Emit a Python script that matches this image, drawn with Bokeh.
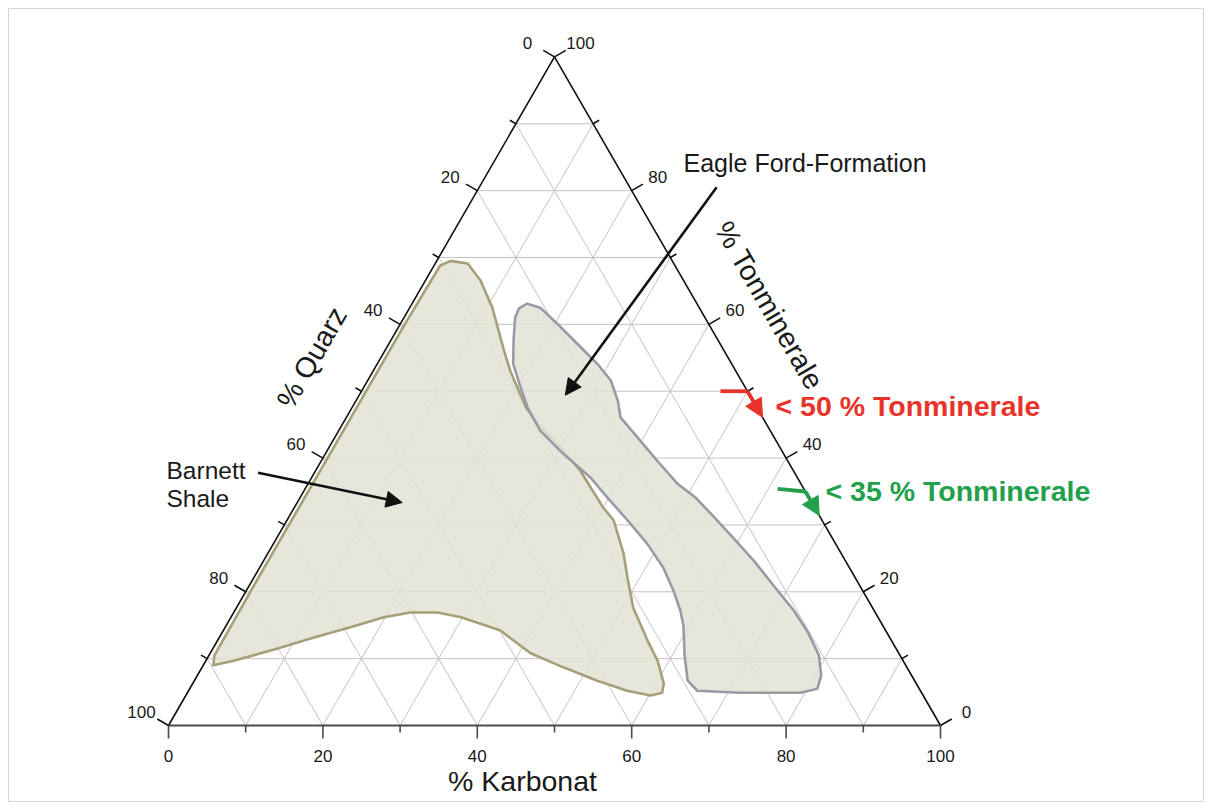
import math
from bokeh.plotting import figure
from bokeh.models import Range1d, Arrow, NormalHead
from bokeh.embed import file_html
from bokeh.resources import INLINE
from bokeh.core.properties import value

# ---------------- data (ternary: % Karbonat, % Tonminerale; Quarz = rest) ----------------
tick_values = [0, 10, 20, 30, 40, 50, 60, 70, 80, 90, 100]
tick_labels = ["0", "20", "40", "60", "80", "100"]
grid_values = [10, 20, 30, 40, 50, 60, 70, 80, 90]

barnett_karbonat = [1.3, 3.6, 8.4, 11.9, 16.2, 19.8, 22.9, 26.4, 29.8, 35.9, 41.5, 46.8,
                    52.2, 56.8, 60.2, 61.5, 61.0, 58.5, 55.7, 51.4, 48.4, 46.1, 42.3,
                    40.0, 34.3, 30.0, 25.2, 22.5, 20.3, 17.7, 15.4, 12.9, 10.7, 7.1,
                    4.2, 1.8, 0.8, 0.6, 0.6, 0.6, 0.7]
barnett_ton = [9.0, 9.7, 11.5, 13.0, 14.7, 16.2, 16.9, 16.9, 16.2, 14.2, 10.8, 8.7,
               6.7, 5.2, 4.5, 4.9, 6.3, 9.7, 12.7, 17.6, 22.1, 25.7, 30.7,
               32.6, 38.1, 41.6, 45.2, 47.6, 50.1, 53.1, 56.1, 59.5, 62.5, 66.6,
               69.1, 69.5, 68.8, 60.0, 40.0, 20.0, 10.5]

eagle_karbonat = [14.9, 16.9, 20.3, 24.4, 28.5, 31.5, 33.9, 35.5, 39.2, 43.5, 47.8,
                  51.2, 54.8, 59.6, 63.8, 68.3, 72.4, 75.9, 79.0, 80.8, 81.3, 79.4,
                  71.6, 65.9, 63.9, 61.6, 59.2, 57.7, 55.3, 52.3, 48.4, 44.1, 39.8,
                  36.1, 30.3, 26.1, 22.7, 20.3, 17.6, 15.9, 14.4, 14.2]
eagle_ton = [63.1, 62.5, 60.1, 57.1, 54.1, 51.6, 48.6, 46.1, 43.1, 39.6, 36.2,
             34.1, 31.4, 27.7, 24.4, 20.6, 17.2, 13.9, 10.5, 7.5, 5.5, 4.9,
             4.9, 5.2, 6.7, 10.5, 15.0, 17.2, 20.2, 23.6, 27.2, 30.7, 34.1,
             37.1, 41.0, 44.1, 47.6, 50.6, 54.1, 57.6, 61.0, 62.4]

# arrows in ternary coordinates (Karbonat, Ton)
arrow_eagle = [(30.75, 80.5), (26.7, 49.4)]
arrow_barnett = [(-7.3, 37.8), (13.6, 33.35)]
arrow_red = [(46.5, 50.0), (50.0, 50.0), (53.9, 46.1)]
arrow_green = [(61.2, 35.4), (65.0, 35.0), (68.6, 31.4)]

S3 = math.sqrt(3) / 2


def tern(c, t):
    return c + t / 2.0, t * S3


def tern_list(cs, ts):
    xs, ys = [], []
    for c, t in zip(cs, ts):
        x, y = tern(c, t)
        xs.append(x)
        ys.append(y)
    return xs, ys


PX = 7.72  # pixels per unit
FONT = value("Liberation Sans")

p = figure(width=1204, height=802, output_backend="svg", toolbar_location=None,
           x_range=Range1d(-160 / PX, 1036 / PX), y_range=Range1d(-77 / PX, 717 / PX),
           min_border_left=8, min_border_top=8, min_border_right=0, min_border_bottom=0)
p.axis.visible = False
p.grid.visible = False
p.outline_line_color = "#d6d6d6"
p.background_fill_color = "white"
p.border_fill_color = "white"

# ---------------- grid ----------------
gx0, gy0, gx1, gy1 = [], [], [], []
for v in grid_values:
    for (a, b) in [((0, v), (100 - v, v)), ((v, 0), (v, 100 - v)), ((100 - v, 0), (0, 100 - v))]:
        x0, y0 = tern(*a)
        x1, y1 = tern(*b)
        gx0.append(x0); gy0.append(y0); gx1.append(x1); gy1.append(y1)
p.segment(gx0, gy0, gx1, gy1, line_color="#c9c1c1", line_width=1)

# ---------------- regions ----------------
bx, by = tern_list(barnett_karbonat, barnett_ton)
p.patch(bx, by, fill_color="#e2e2d5", fill_alpha=0.86, line_color="#a69f7a",
        line_width=2.6, line_join="round")
ex, ey = tern_list(eagle_karbonat, eagle_ton)
p.patch(ex, ey, fill_color="#e2e2d5", fill_alpha=0.86, line_color="#9a9aa6",
        line_width=2.6, line_join="round")

# ---------------- triangle ----------------
A = tern(0, 0); B = tern(100, 0); C = tern(0, 100)
p.line([A[0], C[0], B[0]], [A[1], C[1], B[1]], line_color="#111111", line_width=1.6)
p.line([A[0], B[0]], [A[1], B[1]], line_color="#4a4a4a", line_width=2.2)

# ---------------- ticks ----------------
tx0, ty0, tx1, ty1, tcol = [], [], [], [], []
dirs = {"bottom": (0.0, -1.0), "left": (-S3, 0.5), "right": (S3, 0.5)}
for v in tick_values:
    L = (13 if v % 20 == 0 else 7) / PX
    pts = {"bottom": tern(v, 0), "left": tern(0, 100 - v), "right": tern(100 - v, v)}
    for k, (x, y) in pts.items():
        dx, dy = dirs[k]
        tx0.append(x); ty0.append(y); tx1.append(x + dx * L); ty1.append(y + dy * L)
        tcol.append("#4a4a4a" if k == "bottom" else "#111111")
p.segment(tx0, ty0, tx1, ty1, line_color=tcol, line_width=1.6)

# tick labels
lx, ly, lt = [], [], []
for lab in tick_labels:
    v = int(lab)
    x, y = tern(v, 0)
    lx.append(x); ly.append(y - 30 / PX); lt.append(lab)
    x, y = tern(0, 100 - v)
    lx.append(x - 27 / PX); ly.append(y + 14 / PX); lt.append(lab)
    x, y = tern(100 - v, v)
    lx.append(x + 26 / PX); ly.append(y + 14 / PX); lt.append(lab)
p.text(lx, ly, text=lt, text_font=FONT, text_font_size="17px", text_color="#1a1a1a",
       text_align="center", text_baseline="middle")

# ---------------- axis titles ----------------
p.text([354 / PX], [-55 / PX], text=["% Karbonat"], text_font=FONT, text_font_size="28.5px",
       text_color="#1a1a1a", text_align="center", text_baseline="middle")
p.text([143 / PX], [368 / PX], text=["% Quarz"], text_font=FONT, text_font_size="28.5px",
       text_color="#1a1a1a", text_align="center", text_baseline="middle", angle=math.pi / 3)
p.text([601 / PX], [420 / PX], text=["% Tonminerale"], text_font=FONT, text_font_size="28.5px",
       text_color="#1a1a1a", text_align="center", text_baseline="middle", angle=-math.pi / 3)

# ---------------- annotations ----------------
p.text([515 / PX], [563 / PX], text=["Eagle Ford-Formation"], text_font=FONT,
       text_font_size="25px", text_color="#1a1a1a", text_align="left", text_baseline="middle")
p.text([-2 / PX, -2 / PX], [255 / PX, 227 / PX], text=["Barnett", "Shale"], text_font=FONT,
       text_font_size="24.5px", text_color="#1a1a1a", text_align="left", text_baseline="middle")
p.text([607 / PX], [320 / PX], text=["< 50 % Tonminerale"], text_font=FONT,
       text_font_size="28.5px", text_font_style="bold", text_color="#e8332a",
       text_align="left", text_baseline="middle")
p.text([657 / PX], [235 / PX], text=["< 35 % Tonminerale"], text_font=FONT,
       text_font_size="28.5px", text_font_style="bold", text_color="#22a04b",
       text_align="left", text_baseline="middle")


def add_arrow(pts, color, width, head):
    xy = [tern(c, t) for c, t in pts]
    if len(xy) > 2:
        p.line([q[0] for q in xy[:-1]], [q[1] for q in xy[:-1]], line_color=color,
               line_width=width, line_join="miter")
    (x0, y0), (x1, y1) = xy[-2], xy[-1]
    p.add_layout(Arrow(end=NormalHead(size=head, fill_color=color, line_color=color),
                       x_start=x0, y_start=y0, x_end=x1, y_end=y1,
                       line_color=color, line_width=width))


add_arrow(arrow_eagle, "#111111", 2.6, 16)
add_arrow(arrow_barnett, "#111111", 2.6, 16)
add_arrow(arrow_red, "#e8332a", 3.8, 18)
add_arrow(arrow_green, "#22a04b", 3.8, 18)

open("out.html", "w").write(file_html(p, INLINE))
